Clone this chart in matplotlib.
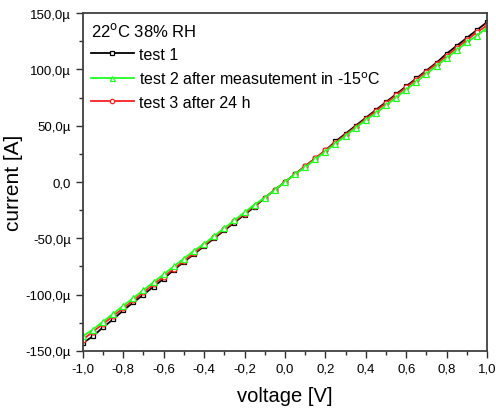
import numpy as np
import matplotlib.pyplot as plt
from matplotlib.ticker import MultipleLocator, FuncFormatter

plt.rcParams['font.family'] = ['Liberation Sans', 'DejaVu Sans']

voltage = [-1.00, -0.95, -0.90, -0.85, -0.80, -0.75, -0.70, -0.65, -0.60, -0.55,
           -0.50, -0.45, -0.40, -0.35, -0.30, -0.25, -0.20, -0.15, -0.10, -0.05,
           0.00, 0.05, 0.10, 0.15, 0.20, 0.25, 0.30, 0.35, 0.40, 0.45,
           0.50, 0.55, 0.60, 0.65, 0.70, 0.75, 0.80, 0.85, 0.90, 0.95, 1.00]

# current in uA
test1 = [-143, -137, -129, -122, -114, -107, -100, -93, -86, -78,
         -71, -64, -57, -50, -43, -36, -29, -22, -14, -7,
         0, 7, 14, 21, 28, 36, 43, 50, 57, 64,
         71, 78, 85, 92, 99, 106, 114, 121, 128, 135, 142]
test2 = [-137, -131, -124, -117, -110, -103, -96, -89, -82, -75,
         -68, -61, -55, -48, -41, -34, -27, -20, -14, -7,
         0, 7, 13, 20, 27, 34, 41, 48, 55, 61,
         68, 75, 82, 89, 96, 103, 110, 117, 124, 130, 137]
test3 = [-140, -133, -126, -119, -112, -105, -98, -91, -84, -77,
         -70, -63, -56, -49, -42, -35, -28, -21, -14, -7,
         0, 7, 14, 21, 28, 35, 42, 49, 56, 63,
         70, 77, 84, 91, 98, 105, 112, 119, 126, 133, 139]

labels = ['test 1', 'test 2 after measutement in -15$^{\\rm o}$C', 'test 3 after 24 h']

fig = plt.figure(figsize=(4.96, 4.14), dpi=100)
ax = fig.add_axes([0.167, 0.150, 0.815, 0.816])

ax.plot(voltage, np.array(test1) * 1e-6, color='black', lw=1.3, marker='s',
        ms=3.5, mfc='white', mew=0.9, label=labels[0])
ax.plot(voltage, np.array(test3) * 1e-6, color='#ff2020', lw=1.3, marker='o',
        ms=3.5, mfc='white', mew=0.9, label=labels[2])
ax.plot(voltage, np.array(test2) * 1e-6, color='#20ff20', lw=1.3, marker='^',
        ms=4, mfc='white', mew=0.9, label=labels[1])

ax.set_xlim(-1, 1)
ax.set_ylim(-150e-6, 150e-6)
ax.xaxis.set_major_locator(MultipleLocator(0.2))
ax.xaxis.set_minor_locator(MultipleLocator(0.1))
ax.yaxis.set_major_locator(MultipleLocator(50e-6))
ax.yaxis.set_minor_locator(MultipleLocator(25e-6))


def xfmt(v, pos):
    return ('%.1f' % v).replace('.', ',').replace('-0,0', '0,0')


def yfmt(v, pos):
    u = round(v * 1e6, 1)
    if u == 0:
        return '0,0'
    return ('%.1fµ' % u).replace('.', ',')


ax.xaxis.set_major_formatter(FuncFormatter(xfmt))
ax.yaxis.set_major_formatter(FuncFormatter(yfmt))
ax.tick_params(which='both', direction='out', labelsize=9.5, color='#303030',
               top=False, right=False)
ax.tick_params(which='major', length=5, width=1)
ax.tick_params(which='minor', length=3, width=1)
for s in ax.spines.values():
    s.set_color('#404040')
    s.set_linewidth(1.3)

ax.set_xlabel('voltage [V]', fontsize=14.5, labelpad=8)
ax.set_ylabel('current [A]', fontsize=15, labelpad=2)

h, l = ax.get_legend_handles_labels()
order = [0, 2, 1]
leg = ax.legend([h[i] for i in order], [l[i] for i in order],
                title='22$^{\\rm o}$C 38% RH', loc='upper left', frameon=False,
                fontsize=11.5, title_fontsize=12, markerscale=0.9,
                handlelength=2.7, handletextpad=0.3, labelspacing=0.5,
                borderaxespad=0.2, borderpad=0.3, numpoints=1)
leg._legend_box.align = 'left'

fig.savefig('out.png', dpi=100)
